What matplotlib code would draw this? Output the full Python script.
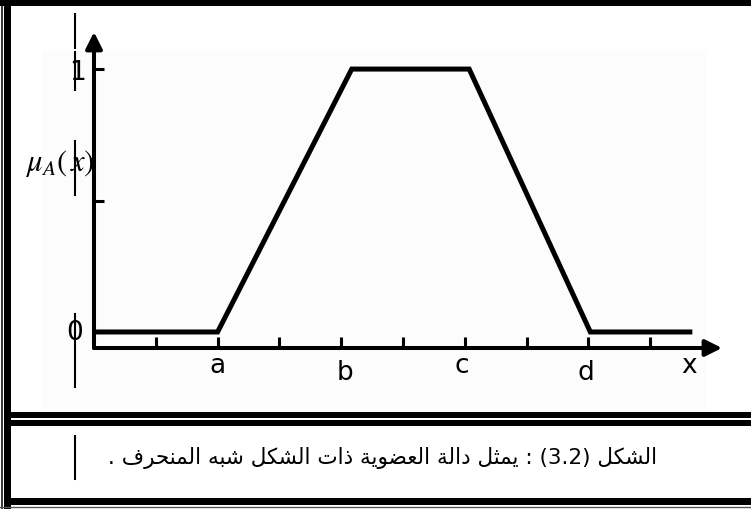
import matplotlib
matplotlib.use('Agg')
import matplotlib.pyplot as plt
from matplotlib.patches import Rectangle

# ---------------- data ----------------
x_pts = [0, 2.0, 4.17, 6.07, 8.03, 9.68]
mu_pts = [0, 0, 1, 1, 0, 0]
x_ticks = [1, 2, 3, 4, 5, 6, 7, 8, 9]
y_ticks = [0.5, 1.0]
x_labels = ['a', 'b', 'c', 'd', 'x']
x_label_pos = [2.0, 4.06, 5.95, 7.95, 9.63]
y_labels = ['0', '1']
y_label_pos = [0.0, 1.0]
y_title = r'$\mu_A\left(\,x\right)$'
caption = 'الشكل (3.2) : يمثل دالة العضوية ذات الشكل شبه المنحرف .'

# ---------------- Arabic shaping (presentation forms, visual order) ----------------
DUAL = {'ب': 0xFE8F, 'ت': 0xFE95, 'ث': 0xFE99, 'ج': 0xFE9D, 'ح': 0xFEA1, 'خ': 0xFEA5,
        'س': 0xFEB1, 'ش': 0xFEB5, 'ص': 0xFEB9, 'ض': 0xFEBD, 'ط': 0xFEC1, 'ظ': 0xFEC5,
        'ع': 0xFEC9, 'غ': 0xFECD, 'ف': 0xFED1, 'ق': 0xFED5, 'ك': 0xFED9, 'ل': 0xFEDD,
        'م': 0xFEE1, 'ن': 0xFEE5, 'ه': 0xFEE9, 'ي': 0xFEF1}
RIGHT = {'ا': 0xFE8D, 'ة': 0xFE93, 'د': 0xFEA9, 'ذ': 0xFEAB, 'ر': 0xFEAD, 'ز': 0xFEAF,
         'و': 0xFEED, 'ى': 0xFEEF, 'أ': 0xFE83, 'إ': 0xFE87, 'آ': 0xFE81}


def shape_word(w):
    out = []
    n = len(w)
    for i, ch in enumerate(w):
        prev = w[i - 1] if i > 0 else None
        nxt = w[i + 1] if i < n - 1 else None
        pj = prev in DUAL
        if ch in DUAL:
            nj = nxt is not None and (nxt in DUAL or nxt in RIGHT)
            off = 3 if (pj and nj) else 1 if pj else 2 if nj else 0
            out.append(chr(DUAL[ch] + off))
        elif ch in RIGHT:
            out.append(chr(RIGHT[ch] + (1 if pj else 0)))
        else:
            out.append(ch)
    return ''.join(reversed(out))


def visual(text):
    vis = []
    for t in text.split(' '):
        if any(c in DUAL or c in RIGHT for c in t):
            vis.append(shape_word(t))
        else:
            vis.append(t)
    return ' '.join(reversed(vis))


plt.rcParams['mathtext.fontset'] = 'stix'

W, H = 751, 510
fig = plt.figure(figsize=(W / 100, H / 100), dpi=100)
fig.patch.set_facecolor('white')

# background / frame layer (pixel coordinates)
bg = fig.add_axes([0, 0, 1, 1])
bg.set_xlim(0, W)
bg.set_ylim(H, 0)
bg.axis('off')
bg.add_patch(Rectangle((42, 52), 665, 360, color='#fcfcfc', lw=0))
# outer frame
bg.add_patch(Rectangle((0, 0.5), W, 6.5, color='black', lw=0))
bg.add_patch(Rectangle((4, 0), 7, H, color='black', lw=0))
bg.plot([1.5, 1.5], [0, H], color='black', lw=1.1)
bg.add_patch(Rectangle((4, 413), W - 4, 6, color='black', lw=0))
bg.add_patch(Rectangle((4, 420.5), W - 4, 6.5, color='black', lw=0))
bg.add_patch(Rectangle((4, 499), W - 4, 7, color='black', lw=0))
bg.plot([0, W], [508, 508], color='#555555', lw=1.0)
# text-box cursor bars
for y0, y1 in [(15, 49), (53, 91), (142, 196), (315, 388), (437, 480)]:
    bg.plot([75, 75], [y0, y1], color='black', lw=1.5)

bg.text(383, 458, visual(caption), ha='center', va='center', fontsize=15.5,
        family=['DejaVu Sans'], color='black')

# ---------------- chart ----------------
xmax, ymin, ymax = 10.16, -0.061, 1.141
ax = fig.add_axes([94 / W, (H - 349) / H, 628 / W, 316 / H])
ax.set_facecolor('none')
ax.set_xlim(0, xmax)
ax.set_ylim(ymin, ymax)
for s in ax.spines.values():
    s.set_visible(False)

ax.plot(x_pts, mu_pts, color='black', lw=3.6, solid_joinstyle='miter',
        solid_capstyle='butt', zorder=3, clip_on=False)

ax.set_xticks(x_ticks)
ax.set_xticklabels([])
ax.set_yticks(y_ticks)
ax.set_yticklabels([])
ax.tick_params(axis='x', direction='in', length=8, width=2.2, bottom=True, top=False)
ax.tick_params(axis='y', direction='in', length=7.5, width=2.2, left=True, right=False)

arrow = dict(arrowstyle='-|>,head_length=0.5,head_width=0.25', color='black', lw=2.9,
             shrinkA=0, shrinkB=0, mutation_scale=20)
ax.annotate('', xy=(xmax, ymin), xytext=(0, ymin), arrowprops=arrow, annotation_clip=False)
ax.annotate('', xy=(0, ymax), xytext=(0, ymin), arrowprops=arrow, annotation_clip=False)

drops = [-0.152, -0.179, -0.152, -0.179, -0.152]
for p, l, d in zip(x_label_pos, x_labels, drops):
    ax.text(p, d, l, ha='center', va='baseline', fontsize=19, family='DejaVu Sans')

ax.text(-0.316, y_label_pos[0], y_labels[0], ha='center', va='center', fontsize=19,
        family='DejaVu Sans')
ax.text(-0.267, y_label_pos[1] - 0.01, y_labels[1], ha='center', va='center', fontsize=19,
        family='DejaVu Sans')
ax.text(-0.55, 0.646, y_title, ha='center', va='center', fontsize=22)

fig.savefig('out.png', dpi=100)
